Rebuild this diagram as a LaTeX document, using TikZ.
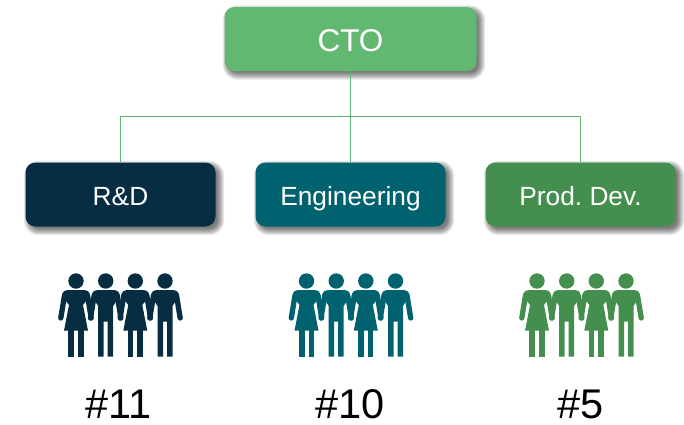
\documentclass[tikz,border=0pt]{standalone}
\usetikzlibrary{backgrounds}
\usepackage{fontspec}
\setmainfont{Liberation Sans}
\frenchspacing
\definecolor{ctoc}{HTML}{62B771}
\definecolor{rdc}{HTML}{072D42}
\definecolor{engc}{HTML}{00626F}
\definecolor{prodc}{HTML}{448F4E}
\newcommand{\softshade}[1]{%
  \foreach \g in {-2,-1,...,5}{
    \fill[black,opacity=.085,rounded corners={10pt+\g pt}]
      ([shift={(3.5-\g,3.5-\g)}]#1.north west) rectangle ([shift={(3.5+\g,3.5+\g)}]#1.south east);
  }}
\tikzset{
  orgbox/.style={rounded corners=10pt,text=white,inner sep=0pt,minimum width=190pt,minimum height=64pt,text height=21pt,text depth=0pt,font=\fontsize{26.3}{30}\selectfont},
  ctobox/.style={orgbox,fill=ctoc,minimum width=252pt,text height=24pt,font=\fontsize{31.5}{34}\selectfont},
  link/.style={draw=ctoc,line width=1.1pt},
  countlabel/.style={font=\fontsize{41.5}{46}\selectfont,text=black,inner sep=0pt},
  limb/.style={line width=5.3pt,line cap=round},
  figcolor/.initial=black,
  woman/.pic={
    \fill (0,0) circle (7.7);
    \draw[limb,draw=\pgfkeysvalueof{/tikz/figcolor}] (-11.5,14.5) -- (-15.2,37);
    \draw[limb,draw=\pgfkeysvalueof{/tikz/figcolor}] (11.5,14.5) -- (15.2,37);
    \fill (-7,9) -- (7,9) .. controls (11,9) and (14,10.5) .. (14,15) -- (7,24) -- (12,49.7) -- (-12,49.7) -- (-7,24) -- (-14,15) .. controls (-14,10.5) and (-11,9) .. (-7,9) -- cycle;
    \fill (-7.6,49) rectangle (-2,75.7);
    \fill (2,49) rectangle (7.6,75.7);
  },
  man/.pic={
    \fill (0,0) circle (7.7);
    \draw[limb,draw=\pgfkeysvalueof{/tikz/figcolor}] (-11.5,14.5) -- (-15.2,37);
    \draw[limb,draw=\pgfkeysvalueof{/tikz/figcolor}] (11.5,14.5) -- (15.2,37);
    \fill (-7,9) -- (7,9) .. controls (11,9) and (14,10.5) .. (14,15) -- (7.5,25) -- (7.5,75.7) -- (2,75.7) -- (2,40.7) -- (-2,40.7) -- (-2,75.7) -- (-7.5,75.7) -- (-7.5,25) -- (-14,15) .. controls (-14,10.5) and (-11,9) .. (-7,9) -- cycle;
  }
}
\begin{document}
\begin{tikzpicture}[x=1pt,y=-1pt]
\useasboundingbox (0,0) rectangle (684,424);
\coordinate (bus) at (350.5,116.5);
\node[ctobox] (cto) at (350.5,39) {CTO};
\node[orgbox,fill=rdc] (rd) at (120.5,194.5) {R\&D};
\node[orgbox,fill=engc] (eng) at (350.5,194.5) {Engineering};
\node[orgbox,fill=prodc] (prod) at (580.5,194.5) {Prod. Dev.};
\begin{scope}[on background layer]
  \softshade{cto}
  \softshade{rd}
  \softshade{eng}
  \softshade{prod}
\end{scope}
\draw[link] (cto.south) -- (eng.north);
\draw[link] (rd.north) |- (bus) -| (prod.north);
\foreach \cx/\col in {76/rdc,306.5/engc,537/prodc}{
  \begin{scope}[fill=\col,figcolor=\col]
    \pic at (\cx,281) {woman};
    \pic at (\cx+29.7,281) {man};
    \pic at (\cx+59.3,281) {woman};
    \pic at (\cx+89,281) {man};
  \end{scope}
}
\node[countlabel] (n1) at (119,404) {\#11};
\node[countlabel] (n2) at (350,404) {\#10};
\node[countlabel] (n3) at (580.5,404) {\#5};
\end{tikzpicture}
\end{document}
